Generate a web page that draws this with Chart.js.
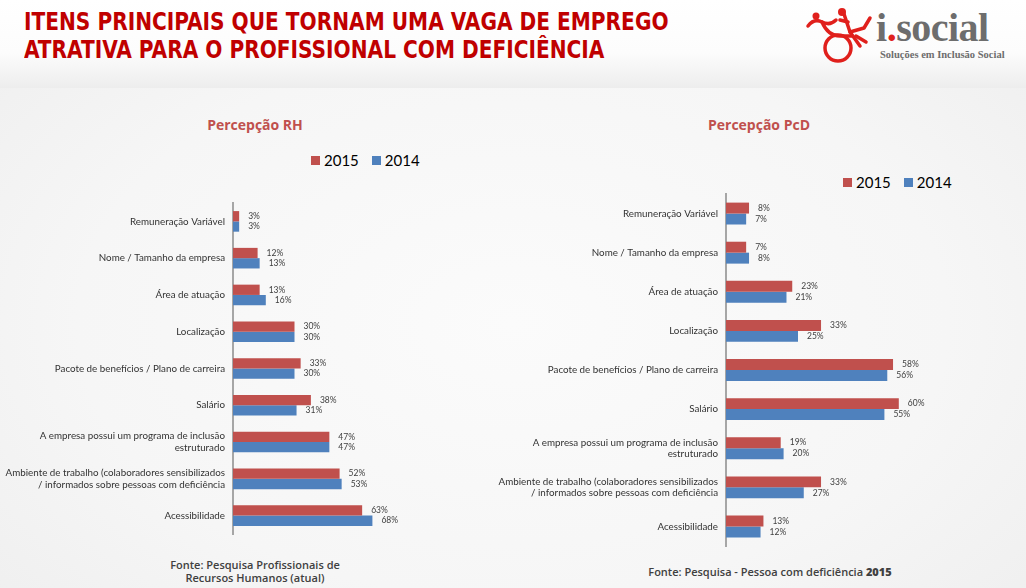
<!DOCTYPE html>
<html>
<head>
<meta charset="utf-8">
<script src="https://cdn.jsdelivr.net/npm/chart.js@4/dist/chart.umd.min.js"></script>
<style>
  html,body{margin:0;padding:0;}
  body{width:1026px;height:588px;position:relative;overflow:hidden;
    background:radial-gradient(ellipse at 50% 55%, #fbfbfb 0%, #f6f6f6 60%, #eeeeee 100%);
    font-family:"Open Sans",sans-serif;}
  #header{position:absolute;left:0;top:0;width:1026px;height:88px;
    background:linear-gradient(to bottom,#ffffff 0%,#fcfcfc 60%,#ededed 100%);}
  .title{position:absolute;left:24px;color:#c00000;font-family:"Liberation Sans Narrow","DejaVu Sans Condensed",sans-serif;
    font-weight:bold;font-size:24px;white-space:nowrap;line-height:28px;transform:scaleX(0.933);transform-origin:0 0;}
  .sub{position:absolute;color:#c0504d;font-weight:700;font-size:14px;white-space:nowrap;transform:translateX(-50%);}
  .legend{position:absolute;font-family:Lato,sans-serif;font-size:15px;color:#000;white-space:nowrap;display:flex;align-items:center;}
  .legend .sw{display:inline-block;width:9px;height:9px;margin-right:4px;}
  .legend .it{display:flex;align-items:center;margin-right:13px;}
  .note{position:absolute;color:#404040;font-weight:600;font-size:11px;text-align:center;white-space:nowrap;line-height:13px;transform:translateX(-50%);}
  canvas{position:absolute;}
  #logo{position:absolute;left:800px;top:6px;width:220px;height:60px;}
  .brand{position:absolute;left:876px;top:4px;font-family:"Liberation Serif","DejaVu Serif",serif;font-size:40px;color:#6d6d6d;font-weight:bold;letter-spacing:-0.5px;}
  .brand .r{color:#e0201c;}
  .tag{position:absolute;left:880px;top:49px;font-family:"Liberation Serif","DejaVu Serif",serif;font-size:10.5px;color:#6d6d6d;font-weight:bold;white-space:nowrap;}
</style>
</head>
<body>
<div id="header"></div>
<div class="title" style="top:8px">ITENS PRINCIPAIS QUE TORNAM UMA VAGA DE EMPREGO</div>
<div class="title" style="top:36px">ATRATIVA PARA O PROFISSIONAL COM DEFICIÊNCIA</div>

<svg id="logo" viewBox="0 0 220 60">
  <g fill="none" stroke="#e0201c" stroke-width="3.5" stroke-linecap="round" stroke-linejoin="round">
    <circle cx="38" cy="42" r="13"/>
    <path d="M8 20 Q14 12 22 16 Q30 20 36 14"/>
    <path d="M22 16 Q28 30 40 30 L52 30"/>
    <path d="M44 8 L50 26 L60 40"/>
    <path d="M50 26 L64 22 L70 12"/>
    <path d="M40 14 L48 16"/>
    <path d="M56 30 L66 36"/>
  </g>
  <circle cx="42" cy="6" r="4" fill="#e0201c"/>
  <circle cx="16" cy="10" r="3.5" fill="#e0201c"/>
</svg>
<div class="brand">i<span class="r">.</span>social</div>
<div class="tag">Soluções em Inclusão Social</div>

<div class="sub" style="left:255px;top:115px">Percepção RH</div>
<div class="sub" style="left:759px;top:115px">Percepção PcD</div>

<div class="legend" id="legL" style="left:311px;top:151px"></div>
<div class="legend" id="legR" style="left:843px;top:173px"></div>

<canvas id="cL" width="460" height="363" style="left:0;top:187px;width:460px;height:363px"></canvas>
<canvas id="cR" width="546" height="384" style="left:480px;top:178px;width:546px;height:384px"></canvas>

<div class="note" style="left:255px;top:558px">Fonte: Pesquisa Profissionais de<br>Recursos Humanos (atual)</div>
<div class="note" style="left:770px;top:565px">Fonte: Pesquisa - Pessoa com deficiência <b style="font-weight:800">2015</b></div>

<script>
const categories = [
  "Remuneração Variável",
  "Nome / Tamanho da empresa",
  "Área de atuação",
  "Localização",
  "Pacote de benefícios / Plano de carreira",
  "Salário",
  ["A empresa possui um programa de inclusão", "estruturado"],
  ["Ambiente de trabalho (colaboradores sensibilizados", "/ informados sobre pessoas com deficiência"],
  "Acessibilidade"
];
const seriesNames = ["2015", "2014"];
const rh2015 = [3, 12, 13, 30, 33, 38, 47, 52, 63];
const rh2014 = [3, 13, 16, 30, 30, 31, 47, 53, 68];
const pcd2015 = [8, 7, 23, 33, 58, 60, 19, 33, 13];
const pcd2014 = [7, 8, 21, 25, 56, 55, 20, 27, 12];
const colors = ["#c0504d", "#4f81bd"];

function buildLegend(id){
  const el = document.getElementById(id);
  seriesNames.forEach((n,i)=>{
    const it = document.createElement('span'); it.className='it';
    it.innerHTML = '<span class="sw" style="background:'+colors[i]+'"></span>'+n;
    el.appendChild(it);
  });
}
buildLegend('legL'); buildLegend('legR');

const valueLabels = {
  id:'valueLabels',
  afterDatasetsDraw(chart){
    const ctx = chart.ctx;
    ctx.save();
    ctx.font = '8.5px Lato, sans-serif';
    ctx.fillStyle = '#404040';
    ctx.textAlign = 'left';
    ctx.textBaseline = 'middle';
    chart.data.datasets.forEach((ds,di)=>{
      chart.getDatasetMeta(di).data.forEach((bar,i)=>{
        ctx.fillText(ds.data[i] + '%', bar.x + 9, bar.y);
      });
    });
    ctx.restore();
  }
};

function makeChart(id, d15, d14, axisX, pad){
  return new Chart(document.getElementById(id), {
    type:'bar',
    data:{
      labels:categories,
      datasets:[
        {label:seriesNames[0], data:d15, backgroundColor:colors[0]},
        {label:seriesNames[1], data:d14, backgroundColor:colors[1]}
      ]
    },
    options:{
      indexAxis:'y',
      responsive:false,
      animation:false,
      events:[],
      layout:{padding:pad},
      datasets:{bar:{categoryPercentage:0.56, barPercentage:1.0}},
      plugins:{legend:{display:false}, tooltip:{enabled:false}},
      scales:{
        x:{display:false, min:0, max:100},
        y:{
          grid:{display:false, drawTicks:false},
          border:{display:true, color:'#a6a6a6', width:2},
          ticks:{color:'#333333', padding:8, font:{family:'Lato, sans-serif', size:9.8}},
          afterFit(scale){ scale.width = axisX; }
        }
      }
    },
    plugins:[valueLabels]
  });
}
makeChart('cL', rh2015, rh2014, 233, {top:16, bottom:16, left:0, right:22});
makeChart('cR', pcd2015, pcd2014, 246, {top:16, bottom:16, left:0, right:12});
</script>
</body>
</html>
